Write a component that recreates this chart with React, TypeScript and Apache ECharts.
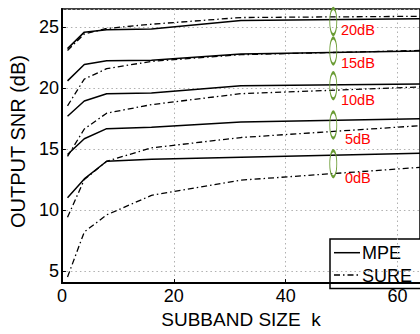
import React, { useEffect, useRef } from "react";
import * as echarts from "echarts";

const subbandSizes = [1, 4, 8, 16, 32, 64];

const mpe0 = [11.0, 12.55, 14.0, 14.17, 14.34, 14.65];
const sure0 = [4.5, 8.2, 9.6, 11.2, 12.45, 13.5];
const mpe5 = [14.55, 15.85, 16.68, 16.8, 17.22, 17.5];
const sure5 = [9.4, 12.5, 14.0, 15.1, 15.95, 16.92];
const mpe10 = [17.7, 18.95, 19.55, 19.6, 20.2, 20.35];
const sure10 = [14.4, 16.65, 17.95, 18.65, 19.55, 20.1];
const mpe15 = [20.6, 21.95, 22.25, 22.3, 22.8, 23.05];
const sure15 = [18.55, 20.75, 21.6, 22.2, 22.75, 23.1];
const mpe20 = [23.25, 24.6, 24.8, 24.85, 25.55, 25.7];
const sure20 = [23.1, 24.45, 24.9, 25.25, 25.8, 25.9];

const noiseLabels = ["0dB", "5dB", "10dB", "15dB", "20dB"];
const ellipseX = 48.5;
const ellipseY = [13.8, 16.98, 20.2, 23.05, 25.47];
const labelX = 52.9;
const labelY = [12.63, 15.85, 19.03, 22.05, 24.79];

const FONT = "'Liberation Sans', Arial, Helvetica, sans-serif";

export default function App() {
  const ref = useRef<HTMLDivElement>(null);

  useEffect(() => {
    if (!ref.current) return;
    const chart = echarts.init(ref.current, undefined, { renderer: "svg" });

    const pair = (ys: number[]) => subbandSizes.map((x, i) => [x, ys[i]]);
    const mpeSets = [mpe0, mpe5, mpe10, mpe15, mpe20];
    const sureSets = [sure0, sure5, sure10, sure15, sure20];

    const lineSeries: any[] = [];
    mpeSets.forEach((d) =>
      lineSeries.push({
        type: "line",
        name: "MPE",
        data: pair(d),
        symbol: "none",
        lineStyle: { color: "#000", width: 1.5, type: "solid" },
        z: 3,
      })
    );
    sureSets.forEach((d) =>
      lineSeries.push({
        type: "line",
        name: "SURE",
        data: pair(d),
        symbol: "none",
        lineStyle: { color: "#000", width: 1.3, type: [6, 3, 1.5, 3] },
        z: 3,
      })
    );

    const option: any = {
      animation: false,
      backgroundColor: "#fff",
      textStyle: { fontFamily: FONT },
      grid: {
        left: 57,
        top: 9,
        right: -3,
        bottom: 42,
        show: true,
        borderColor: "#000",
        borderWidth: 1.5,
        backgroundColor: "transparent",
      },
      xAxis: {
        type: "value",
        min: 0,
        max: 64,
        interval: 20,
        name: "SUBBAND SIZE  k",
        nameLocation: "middle",
        nameGap: 21,
        nameTextStyle: { fontSize: 19, color: "#000", fontFamily: FONT },
        axisLine: { show: true, onZero: false, lineStyle: { color: "#000", width: 2 } },
        axisTick: { show: true, inside: true, length: 4, lineStyle: { color: "#000" } },
        axisLabel: {
          fontSize: 18,
          color: "#000",
          margin: 4,
          showMaxLabel: false,
          fontFamily: FONT,
        },
        splitLine: { show: true, lineStyle: { color: "#b0b0b0", type: [1.5, 3], width: 1 } },
      },
      yAxis: {
        type: "value",
        min: 4,
        max: 26.5,
        splitNumber: 5,
        name: "OUTPUT SNR (dB)",
        nameLocation: "middle",
        nameGap: 30,
        nameTextStyle: { fontSize: 20, color: "#000", fontFamily: FONT, padding: [0, 0, 0, 9] },
        axisLine: { show: true, onZero: false, lineStyle: { color: "#000", width: 2 } },
        axisTick: { show: true, inside: true, length: 4, lineStyle: { color: "#000" } },
        axisLabel: {
          fontSize: 18,
          color: "#000",
          margin: 3,
          showMinLabel: false,
          showMaxLabel: false,
          fontFamily: FONT,
        },
        splitLine: { show: true, lineStyle: { color: "#b0b0b0", type: [1.5, 3], width: 1 } },
      },
      series: [
        ...lineSeries,
        {
          type: "scatter",
          name: "noise",
          data: ellipseY.map((y) => [ellipseX, y]),
          symbol: "circle",
          symbolSize: [7, 26],
          itemStyle: {
            color: "rgba(0,0,0,0)",
            borderColor: "#6a9c34",
            borderWidth: 1.6,
            opacity: 1,
          },
          z: 5,
          silent: true,
        },
        {
          type: "scatter",
          name: "noiseLabel",
          data: labelY.map((y, i) => ({ value: [labelX, y], name: noiseLabels[i] })),
          symbol: "circle",
          symbolSize: 1,
          itemStyle: { color: "rgba(0,0,0,0)", opacity: 1 },
          label: {
            show: true,
            position: "inside",
            formatter: (p: any) => p.name,
            color: "#ff0000",
            fontSize: 14.5,
            fontFamily: FONT,
          },
          z: 6,
          silent: true,
        },
      ],
      graphic: [
        {
          type: "group",
          z: 100,
          children: [
            {
              type: "rect",
              shape: { x: 330, y: 239, width: 100, height: 49.5 },
              style: { fill: "#fff", stroke: "#000", lineWidth: 1.5 },
            },
            {
              type: "line",
              shape: { x1: 334, y1: 252.7, x2: 360, y2: 252.7 },
              style: { stroke: "#000", lineWidth: 1.5 },
            },
            {
              type: "text",
              x: 362,
              y: 253,
              style: {
                text: "MPE",
                fontSize: 18,
                fontFamily: FONT,
                fill: "#000",
                verticalAlign: "middle",
                align: "left",
              },
            },
            {
              type: "line",
              shape: { x1: 334, y1: 275, x2: 360, y2: 275 },
              style: { stroke: "#000", lineWidth: 1.3, lineDash: [6, 3, 1.5, 3] },
            },
            {
              type: "text",
              x: 362,
              y: 275.5,
              style: {
                text: "SURE",
                fontSize: 18,
                fontFamily: FONT,
                fill: "#000",
                verticalAlign: "middle",
                align: "left",
              },
            },
          ],
        },
      ],
    };

    chart.setOption(option);
    return () => chart.dispose();
  }, []);

  return (
    <div
      ref={ref}
      style={{ position: "fixed", left: 0, top: 0, width: 420, height: 334 }}
    />
  );
}
